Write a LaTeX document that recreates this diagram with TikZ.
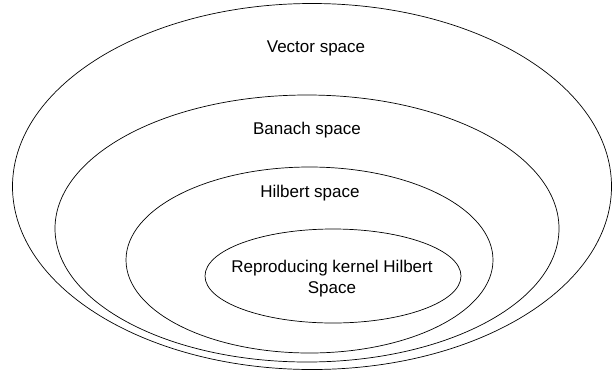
\documentclass[tikz,border=0pt]{standalone}
\usepackage{fontspec}
\setmainfont{Liberation Sans}
\usetikzlibrary{shapes.geometric}

\tikzset{
	space/.style={draw, ellipse, line width=0.7pt, inner sep=0pt},
	spacelabel/.style={font=\fontsize{17}{21}\selectfont, align=center, inner sep=0pt}
}

\begin{document}
\begin{tikzpicture}[x=1pt, y=-1pt]
	\useasboundingbox (0, 0) rectangle (613, 373);

	% nested spaces
	\foreach \name/\cx/\cy/\rx/\ry in {vec/312/186.5/299.5/183, ban/307/228.5/252/133.5, hil/309.5/260/183.5/93, rkhs/333/276/128/47}
		\node[space, minimum width=2*\rx pt, minimum height=2*\ry pt] (\name) at (\cx, \cy) {};

	% labels
	\node[spacelabel] (veclabel) at (316, 48) {Vector space};
	\node[spacelabel] (banlabel) at (307, 130) {Banach space};
	\node[spacelabel] (hillabel) at (310, 193) {Hilbert space};
	\node[spacelabel] (rkhslabel) at (332, 279) {Reproducing kernel Hilbert\\Space};
\end{tikzpicture}
\end{document}
